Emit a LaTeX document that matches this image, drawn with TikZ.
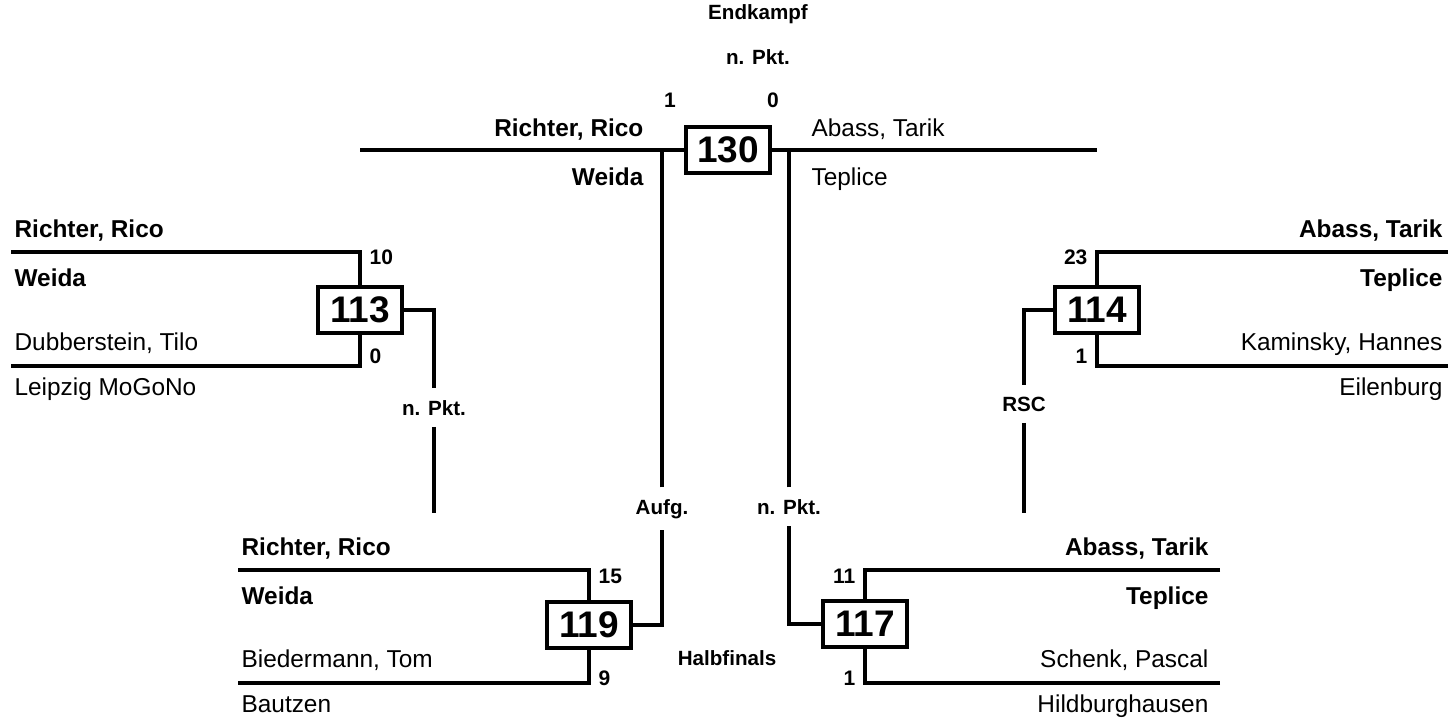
\documentclass[tikz,border=0pt]{standalone}
\usepackage{fontspec}
\setmainfont{Liberation Sans}
\begin{document}
\begin{tikzpicture}[x=0.5pt,y=-0.5pt,line width=1.6pt,
    kbox/.style={draw,fill=white,line width=1.8pt,minimum width=42pt,minimum height=23pt,inner sep=0pt,font=\fontsize{18.5}{20}\selectfont\bfseries},
    nm/.style={inner sep=0pt,font=\fontsize{12.2}{14}\selectfont},
    nmb/.style={inner sep=0pt,font=\fontsize{12.2}{14}\selectfont\bfseries},
    sc/.style={inner sep=0pt,font=\fontsize{10.5}{12}\selectfont\bfseries},
    lbl/.style={inner xsep=0pt,inner ysep=5pt,font=\fontsize{10.3}{12}\selectfont\bfseries}]
        \useasboundingbox (0,0) rectangle (1451,723);%
        \node[lbl,anchor=base] (endk) at (758,19) {Endkampf};%
        \node[lbl,anchor=base] (p130) at (758,64) {n. Pkt.};%
        \node[sc,anchor=base] (s130a) at (670,107) {1};%
        \node[sc,anchor=base] (s130b) at (773,107) {0};%
        \node[kbox] (b130) at (728,150) {130};%
        \coordinate (t130l) at (360,150);%
        \coordinate (t130r) at (1097,150);%
        \coordinate (j130l) at (662,150);%
        \coordinate (j130r) at (789,150);%
        \draw (t130l) -- (b130.west);%
        \draw (b130.east) -- (t130r);%
        \node[nmb,anchor=base east] (n130a) at (645,136) {Richter, Rico};%
        \node[nmb,anchor=base east] (c130a) at (645,185) {Weida};%
        \node[nm,anchor=base west] (n130b) at (810,136) {Abass, Tarik};%
        \node[nm,anchor=base west] (c130b) at (810,185) {Teplice};%
        \node[kbox] (b113) at (360,310) {113};%
        \coordinate (l113a) at (11,252);%
        \coordinate (l113b) at (11,366);%
        \coordinate (e113) at (434,513);%
        \draw (l113a) -| (b113.north);%
        \draw (l113b) -| (b113.south);%
        \node[nmb,anchor=base west] (n113a) at (13,237) {Richter, Rico};%
        \node[nmb,anchor=base west] (c113a) at (13,286) {Weida};%
        \node[nm,anchor=base west] (n113b) at (13,350) {Dubberstein, Tilo};%
        \node[nm,anchor=base west] (c113b) at (13,395) {Leipzig MoGoNo};%
        \node[sc,anchor=base west] (s113a) at (368,264) {10};%
        \node[sc,anchor=base west] (s113b) at (368,363) {0};%
        \node[lbl,anchor=base] (p113) at (434,415) {n. Pkt.};%
        \draw (b113.east) -| (p113.north);%
        \draw (p113.south) -- (e113);%
        \node[kbox] (b114) at (1097,310) {114};%
        \coordinate (l114a) at (1448,252);%
        \coordinate (l114b) at (1448,366);%
        \coordinate (e114) at (1024,513);%
        \draw (l114a) -| (b114.north);%
        \draw (l114b) -| (b114.south);%
        \node[nmb,anchor=base east] (n114a) at (1444,237) {Abass, Tarik};%
        \node[nmb,anchor=base east] (c114a) at (1444,286) {Teplice};%
        \node[nm,anchor=base east] (n114b) at (1444,350) {Kaminsky, Hannes};%
        \node[nm,anchor=base east] (c114b) at (1444,395) {Eilenburg};%
        \node[sc,anchor=base east] (s114a) at (1089,264) {23};%
        \node[sc,anchor=base east] (s114b) at (1089,363) {1};%
        \node[lbl,anchor=base] (p114) at (1024,411) {RSC};%
        \draw (b114.west) -| (p114.north);%
        \draw (p114.south) -- (e114);%
        \node[kbox] (b119) at (589,625) {119};%
        \coordinate (l119a) at (238,570);%
        \coordinate (l119b) at (238,683);%
        \draw (l119a) -| (b119.north);%
        \draw (l119b) -| (b119.south);%
        \node[nmb,anchor=base west] (n119a) at (240,555) {Richter, Rico};%
        \node[nmb,anchor=base west] (c119a) at (240,604) {Weida};%
        \node[nm,anchor=base west] (n119b) at (240,667) {Biedermann, Tom};%
        \node[nm,anchor=base west] (c119b) at (240,712) {Bautzen};%
        \node[sc,anchor=base west] (s119a) at (597,583) {15};%
        \node[sc,anchor=base west] (s119b) at (597,685) {9};%
        \node[lbl,anchor=base] (p119) at (662,514) {Aufg.};%
        \draw (b119.east) -| (p119.south);%
        \draw (p119.north) -- (j130l);%
        \node[kbox] (b117) at (865,624) {117};%
        \coordinate (l117a) at (1220,570);%
        \coordinate (l117b) at (1220,683);%
        \draw (l117a) -| (b117.north);%
        \draw (l117b) -| (b117.south);%
        \node[nmb,anchor=base east] (n117a) at (1210,555) {Abass, Tarik};%
        \node[nmb,anchor=base east] (c117a) at (1210,604) {Teplice};%
        \node[nm,anchor=base east] (n117b) at (1210,667) {Schenk, Pascal};%
        \node[nm,anchor=base east] (c117b) at (1210,712) {Hildburghausen};%
        \node[sc,anchor=base east] (s117a) at (857,583) {11};%
        \node[sc,anchor=base east] (s117b) at (857,685) {1};%
        \node[lbl,anchor=base] (p117) at (789,514) {n. Pkt.};%
        \draw (b117.west) -| (p117.south);%
        \draw (p117.north) -- (j130r);%
        \node[lbl,anchor=base] (halb) at (727,665) {Halbfinals};%
      \end{tikzpicture}
\end{document}
